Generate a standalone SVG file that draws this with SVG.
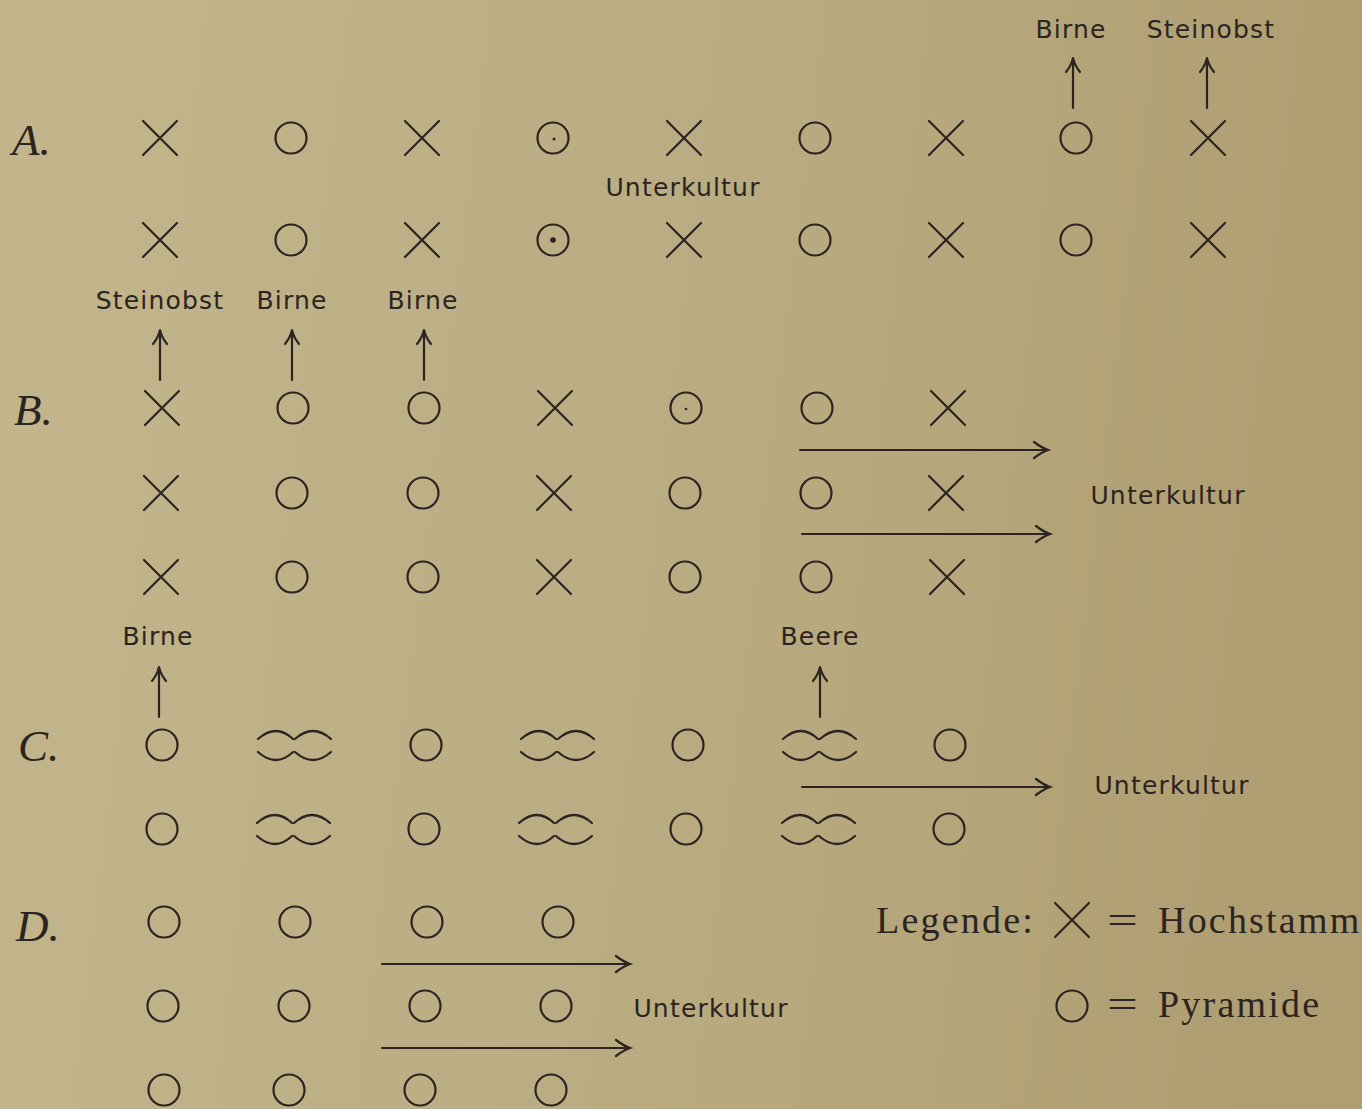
<svg xmlns="http://www.w3.org/2000/svg" xmlns:xlink="http://www.w3.org/1999/xlink" width="1362" height="1109" viewBox="0 0 1362 1109">
<defs>
<linearGradient id="bg" x1="0" y1="0" x2="1" y2="0.1">
<stop offset="0" stop-color="#c3b58c"/>
<stop offset="0.5" stop-color="#bbad83"/>
<stop offset="1" stop-color="#af9e72"/>
</linearGradient>
<path id="sx" d="M-17,-17L17,17M17,-17L-17,17"/>
<circle id="so" r="15.5"/>
<path id="sd" d="M-36,-6Q-18,-22 -1,-6M1,-6Q19,-22 37,-6M-36,7Q-18,23 -1,7M1,7Q19,23 37,7"/>
<path id="up" d="M0,0V-50M-7,-36Q-2,-42 0,-50Q2,-42 7,-36"/>
<path id="rt" d="M0,0H-248M-14,-8Q-6,-2 0,0Q-6,2 -14,8"/>
</defs>
<style>
.s use, .s circle, .s path{fill:none;stroke:#2b2420;stroke-width:2.2;stroke-linecap:round}
.lbl{font-family:"DejaVu Sans",sans-serif;font-size:25px;letter-spacing:1.2px;fill:#2b2420;text-anchor:middle}
.row{font-family:"Liberation Serif",serif;font-style:italic;font-size:45px;fill:#2b2420}
.leg{font-family:"Liberation Serif",serif;font-size:38px;letter-spacing:2.2px;fill:#2b2420}
</style>
<rect width="1362" height="1109" fill="url(#bg)"/>

<g id="rowlabels">
<text class="row" x="12" y="155">A.</text>
<text class="row" x="14" y="425">B.</text>
<text class="row" x="18" y="761">C.</text>
<text class="row" x="16" y="941">D.</text>
</g>

<g id="labels">
<text class="lbl" x="1071" y="38">Birne</text>
<text class="lbl" x="1211" y="38">Steinobst</text>
<text class="lbl" x="683" y="196">Unterkultur</text>
<text class="lbl" x="160" y="309">Steinobst</text>
<text class="lbl" x="292" y="309">Birne</text>
<text class="lbl" x="423" y="309">Birne</text>
<text class="lbl" x="1168" y="504">Unterkultur</text>
<text class="lbl" x="158" y="645">Birne</text>
<text class="lbl" x="820" y="645">Beere</text>
<text class="lbl" x="1172" y="794">Unterkultur</text>
<text class="lbl" x="711" y="1017">Unterkultur</text>
</g>

<g id="connectors" class="s">
<use href="#up" x="1073" y="108"/>
<use href="#up" x="1207" y="108"/>
<use href="#up" x="160" y="380"/>
<use href="#up" x="292" y="380"/>
<use href="#up" x="424" y="380"/>
<use href="#up" x="159" y="717"/>
<use href="#up" x="820" y="717"/>
<use href="#rt" x="1048" y="450"/>
<use href="#rt" x="1050" y="534"/>
<use href="#rt" x="1050" y="787"/>
<use href="#rt" x="630" y="964"/>
<use href="#rt" x="630" y="1048"/>
</g>

<g id="nodesA" class="s">
<g id="a1-1"><use href="#sx" x="160" y="138"/></g>
<g id="a1-2"><use href="#so" x="291" y="138"/></g>
<g id="a1-3"><use href="#sx" x="422" y="138"/></g>
<g id="a1-4"><use href="#so" x="553" y="138"/><circle cx="554" cy="139" r="1.5" style="fill:#2b2420;stroke:none"/></g>
<g id="a1-5"><use href="#sx" x="684" y="138"/></g>
<g id="a1-6"><use href="#so" x="815" y="138"/></g>
<g id="a1-7"><use href="#sx" x="946" y="138"/></g>
<g id="a1-8"><use href="#so" x="1076" y="138"/></g>
<g id="a1-9"><use href="#sx" x="1208" y="138"/></g>
<g id="a2-1"><use href="#sx" x="160" y="240"/></g>
<g id="a2-2"><use href="#so" x="291" y="240"/></g>
<g id="a2-3"><use href="#sx" x="422" y="240"/></g>
<g id="a2-4"><use href="#so" x="553" y="240"/><circle cx="553" cy="240" r="2.8" style="fill:#2b2420;stroke:none"/></g>
<g id="a2-5"><use href="#sx" x="684" y="240"/></g>
<g id="a2-6"><use href="#so" x="815" y="240"/></g>
<g id="a2-7"><use href="#sx" x="946" y="240"/></g>
<g id="a2-8"><use href="#so" x="1076" y="240"/></g>
<g id="a2-9"><use href="#sx" x="1208" y="240"/></g>
</g>

<g id="nodesB" class="s">
<g id="b1-1"><use href="#sx" x="162" y="408"/></g>
<g id="b1-2"><use href="#so" x="293" y="408"/></g>
<g id="b1-3"><use href="#so" x="424" y="408"/></g>
<g id="b1-4"><use href="#sx" x="555" y="408"/></g>
<g id="b1-5"><use href="#so" x="686" y="408"/><circle cx="686" cy="409" r="1.3" style="fill:#2b2420;stroke:none"/></g>
<g id="b1-6"><use href="#so" x="817" y="408"/></g>
<g id="b1-7"><use href="#sx" x="948" y="408"/></g>
<g id="b2-1"><use href="#sx" x="161" y="493"/></g>
<g id="b2-2"><use href="#so" x="292" y="493"/></g>
<g id="b2-3"><use href="#so" x="423" y="493"/></g>
<g id="b2-4"><use href="#sx" x="554" y="493"/></g>
<g id="b2-5"><use href="#so" x="685" y="493"/></g>
<g id="b2-6"><use href="#so" x="816" y="493"/></g>
<g id="b2-7"><use href="#sx" x="946" y="493"/></g>
<g id="b3-1"><use href="#sx" x="161" y="577"/></g>
<g id="b3-2"><use href="#so" x="292" y="577"/></g>
<g id="b3-3"><use href="#so" x="423" y="577"/></g>
<g id="b3-4"><use href="#sx" x="554" y="577"/></g>
<g id="b3-5"><use href="#so" x="685" y="577"/></g>
<g id="b3-6"><use href="#so" x="816" y="577"/></g>
<g id="b3-7"><use href="#sx" x="947" y="577"/></g>
</g>

<g id="nodesC" class="s">
<g id="c1-1"><use href="#so" x="162" y="745"/></g>
<g id="c1-2"><use href="#sd" x="294" y="745"/></g>
<g id="c1-3"><use href="#so" x="426" y="745"/></g>
<g id="c1-4"><use href="#sd" x="557" y="745"/></g>
<g id="c1-5"><use href="#so" x="688" y="745"/></g>
<g id="c1-6"><use href="#sd" x="819" y="745"/></g>
<g id="c1-7"><use href="#so" x="950" y="745"/></g>
<g id="c2-1"><use href="#so" x="162" y="829"/></g>
<g id="c2-2"><use href="#sd" x="293" y="829"/></g>
<g id="c2-3"><use href="#so" x="424" y="829"/></g>
<g id="c2-4"><use href="#sd" x="555" y="829"/></g>
<g id="c2-5"><use href="#so" x="686" y="829"/></g>
<g id="c2-6"><use href="#sd" x="818" y="829"/></g>
<g id="c2-7"><use href="#so" x="949" y="829"/></g>
</g>

<g id="nodesD" class="s">
<g id="d1-1"><use href="#so" x="164" y="922"/></g>
<g id="d1-2"><use href="#so" x="295" y="922"/></g>
<g id="d1-3"><use href="#so" x="427" y="922"/></g>
<g id="d1-4"><use href="#so" x="558" y="922"/></g>
<g id="d2-1"><use href="#so" x="163" y="1006"/></g>
<g id="d2-2"><use href="#so" x="294" y="1006"/></g>
<g id="d2-3"><use href="#so" x="425" y="1006"/></g>
<g id="d2-4"><use href="#so" x="556" y="1006"/></g>
<g id="d3-1"><use href="#so" x="164" y="1090"/></g>
<g id="d3-2"><use href="#so" x="289" y="1090"/></g>
<g id="d3-3"><use href="#so" x="420" y="1090"/></g>
<g id="d3-4"><use href="#so" x="551" y="1090"/></g>
</g>

<g id="legend" class="s">
<text class="leg" x="876" y="933">Legende:</text>
<use href="#sx" x="1072" y="920"/>
<text class="leg" x="1107" y="933" textLength="34" lengthAdjust="spacingAndGlyphs">=</text>
<text class="leg" x="1158" y="933">Hochstamm</text>
<use href="#so" x="1072" y="1006"/>
<text class="leg" x="1107" y="1017" textLength="34" lengthAdjust="spacingAndGlyphs">=</text>
<text class="leg" x="1158" y="1017">Pyramide</text>
</g>
</svg>
